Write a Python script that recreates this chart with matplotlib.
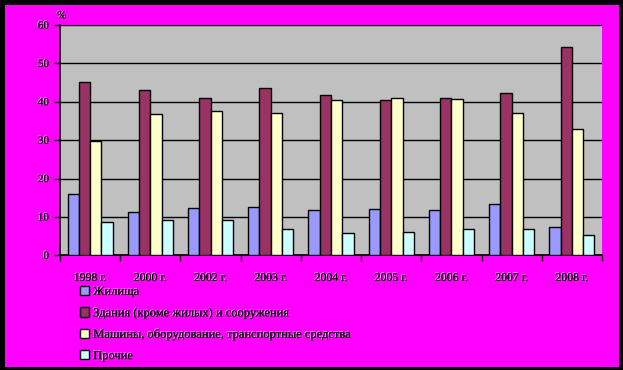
import matplotlib
matplotlib.use("Agg")
import numpy as np
from matplotlib import pyplot as plt
from matplotlib import patheffects as pe
from matplotlib.patches import Rectangle
from matplotlib.ticker import MultipleLocator, FixedLocator

# Данные
years = ['1998 г.', '2000 г.', '2002 г.', '2003 г.', '2004 г.',
         '2005 г.', '2006 г.', '2007 г.', '2008 г.']
series_names = ['Жилища',
                'Здания (кроме жилых) и сооружения',
                'Машины, оборудование, транспортные средства',
                'Прочие']
housing = [16.1, 11.2, 12.2, 12.5, 11.7, 12.0, 11.7, 13.3, 7.3]
buildings = [45.1, 43.0, 41.1, 43.5, 41.7, 40.4, 40.9, 42.4, 54.2]
machines = [29.9, 36.7, 37.5, 37.0, 40.4, 41.1, 40.6, 37.2, 32.8]
other = [8.6, 9.1, 9.1, 6.8, 5.7, 6.2, 6.8, 6.8, 5.2]

colors = ['#9999FF', '#993366', '#FFFFCC', '#CCFFFF']
serif = 'Liberation Serif'
# белая "тень" как у текста в оригинале
shadow = [pe.withSimplePatchShadow(offset=(-0.6, 0.6), shadow_rgbFace='white',
                                   alpha=0.7), pe.Normal()]

W, H = 623, 370
fig = plt.figure(figsize=(W / 100, H / 100), dpi=100, facecolor='black')
# пурпурная подложка
fig.patches.append(Rectangle((5 / W, 3 / H), 614 / W, 362 / H,
                             transform=fig.transFigure, facecolor='#FF00FF',
                             edgecolor='none', zorder=-10))

ax = fig.add_axes([60 / W, (H - 255.3) / H, 542 / W, 230.3 / H])
ax.set_facecolor('#C0C0C0')

x = np.arange(len(years))
w = 0.1875
for i, (vals, c, name) in enumerate(zip([housing, buildings, machines, other],
                                         colors, series_names)):
    ax.bar(x + (i - 1.5) * w, vals, width=w, color=c, edgecolor='black',
           linewidth=1, label=name, zorder=3)

ax.set_xlim(-0.5, len(years) - 0.5)
ax.set_ylim(0, 60)
ax.yaxis.set_major_locator(MultipleLocator(10))
ax.grid(axis='y', color='black', linewidth=1, zorder=1)
ax.set_axisbelow(True)

for s in ['top', 'right']:
    ax.spines[s].set_visible(False)
ax.spines['left'].set_linewidth(1.2)
ax.spines['bottom'].set_linewidth(1.2)

ax.set_xticks(x)
ax.set_xticklabels(years, fontfamily=serif, fontsize=8.5)
ax.xaxis.set_minor_locator(FixedLocator(np.arange(-0.5, len(years), 1)))
ax.tick_params(axis='x', which='major', length=0, pad=12)
ax.tick_params(axis='x', which='minor', length=4, width=1, direction='out')
ax.tick_params(axis='y', length=4, width=1, labelsize=8, pad=4)
for lbl in ax.get_yticklabels() + ax.get_xticklabels():
    lbl.set_path_effects(shadow)
for lbl in ax.get_yticklabels():
    lbl.set_fontfamily(serif)

fig.text(57 / W, 1 - 16 / H, '%', fontsize=8, fontfamily=serif,
         ha='left', va='center', path_effects=shadow)

leg = ax.legend(loc='upper left', bbox_to_anchor=(75 / W, 1 - 281 / H),
                bbox_transform=fig.transFigure, frameon=False,
                prop={'family': serif, 'size': 9}, handlelength=0.75,
                handleheight=0.75, handletextpad=0.3, labelspacing=0.75,
                borderaxespad=0)
for t in leg.get_texts():
    t.set_path_effects(shadow)

fig.savefig('out.png', dpi=100, facecolor='black')
